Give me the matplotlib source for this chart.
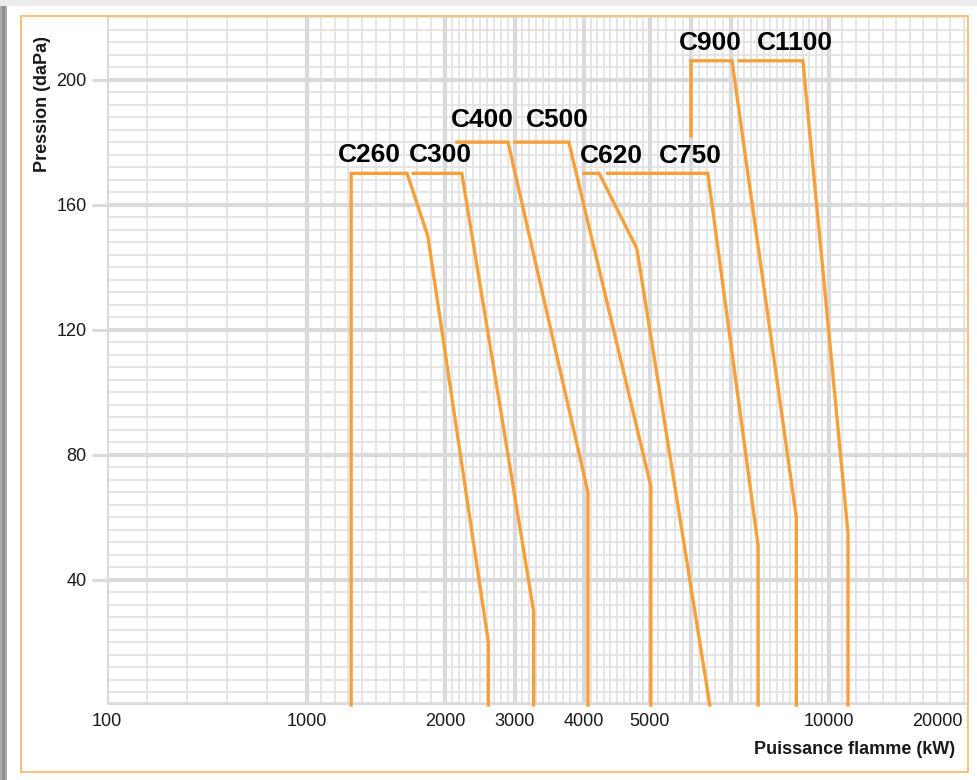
import numpy as np
import matplotlib
matplotlib.use("Agg")
import matplotlib.pyplot as plt
from matplotlib.patches import Rectangle

plt.rcParams['font.family'] = ['Liberation Sans', 'DejaVu Sans']

# ---------------- data (kW, daPa) ----------------
c260_kw = [1320, 1320, 1725, 1875, 2620, 2620]
c260_pa = [0, 170, 170, 150, 20, 0]
c300_kw = [1770, 2240, 3270, 3270]
c300_pa = [170, 170, 30, 0]
c400_kw = [2170, 2900, 4060, 4060]
c400_pa = [180, 180, 68, 0]
c500_kw = [3000, 3780, 5020, 5020]
c500_pa = [180, 180, 70, 0]
c620_kw = [4000, 4230, 4800, 6470]
c620_pa = [170, 170, 146, 0]
c750_kw = [4360, 6420, 7830, 7830]
c750_pa = [170, 170, 51, 0]
c900_kw = [6000, 6000, 7030, 9000, 9000]
c900_pa = [182, 206, 206, 60, 0]
c1100_kw = [7250, 9200, 11760, 11760]
c1100_pa = [206, 206, 55, 0]

names = ["C260", "C300", "C400", "C500", "C620", "C750", "C900", "C1100"]
series_kw = [c260_kw, c300_kw, c400_kw, c500_kw, c620_kw, c750_kw, c900_kw, c1100_kw]
series_pa = [c260_pa, c300_pa, c400_pa, c500_pa, c620_pa, c750_pa, c900_pa, c1100_pa]

# label anchor positions (kW, daPa)
label_kw = [1449, 1964, 2530, 3609, 4409, 5975, 6475, 8957]
label_pa = [176, 176, 187, 187, 175.4, 175.4, 211.8, 211.8]

x_ticks = [100, 1000, 2000, 3000, 4000, 5000, 10000, 20000]
x_ticklabels = ["100", "1000", "2000", "3000", "4000", "5000", "10000", "20000"]
y_ticks = [40, 80, 120, 160, 200]

# ---------------- irregular chart scale ----------------
bp_kw = np.array([0, 100, 1000, 2000, 3000, 4000, 5000, 6000, 7000, 10000, 20000, 40000], float)
bp_u = np.array([84.8, 107, 307, 445, 515, 584, 650, 691, 731, 829, 937, 1153], float)


def fwd(x):
    return np.interp(x, bp_kw, bp_u)


def inv(u):
    return np.interp(u, bp_u, bp_kw)


W, H = 978, 780
fig = plt.figure(figsize=(W / 100, H / 100), dpi=100)

# decorative background: shadow and orange frame
fig.patches.append(Rectangle((0, 0), 7 / W, 1, transform=fig.transFigure,
                             facecolor="#a8a8a8", edgecolor="none", zorder=0))
fig.patches.append(Rectangle((2 / W, 0), 3 / W, 1, transform=fig.transFigure,
                             facecolor="#8f8f8f", edgecolor="none", zorder=0))
fig.patches.append(Rectangle((0, 1 - 6 / H), 1, 6 / H, transform=fig.transFigure,
                             facecolor="#ececec", edgecolor="none", zorder=0))
fig.patches.append(Rectangle((21 / W, (H - 772) / H), (968 - 21) / W, (772 - 16) / H,
                             transform=fig.transFigure, facecolor="none",
                             edgecolor="#f8b466", linewidth=1.2, zorder=1))

ax = fig.add_axes([107 / W, (H - 705) / H, (967 - 107) / W, (705 - 17) / H])
ax.set_xscale('function', functions=(fwd, inv))
ax.set_xlim(100, inv(967))
ax.set_ylim(0, 220)

minor_col = "#e3e3e3"
major_col = "#dadada"

# vertical grid
vminor = np.concatenate([np.linspace(100, 1000, 6), np.arange(1000, 5000, 100),
                         np.arange(5000, 10000, 200), np.arange(10000, 23000, 1250)])
vmajor = [100, 1000, 2000, 3000, 4000, 5000, 6000, 7000, 10000]
for v in vminor:
    ax.axvline(v, color=minor_col, lw=1.3, zorder=1)
for v in vmajor:
    ax.axvline(v, color=major_col, lw=3.0, zorder=1.2)
# horizontal grid
for h in np.arange(0, 221, 4):
    ax.axhline(h, color=minor_col, lw=1.3, zorder=1)
for h in [0] + y_ticks:
    ax.axhline(h, color=major_col, lw=3.0 if h else 4.0, zorder=1.2)

for s in ax.spines.values():
    s.set_visible(False)

orange = "#f7a03a"
for kw, pa in zip(series_kw, series_pa):
    ax.plot(kw, pa, color=orange, lw=2.4, solid_joinstyle='miter', zorder=3, clip_on=False)

for n, lx, ly in zip(names, label_kw, label_pa):
    ax.text(lx, ly, n, fontsize=19, fontweight='bold', color='black',
            ha='center', va='center', zorder=4)

ax.set_xticks(x_ticks)
ax.set_xticklabels(x_ticklabels)
ax.xaxis.set_minor_locator(matplotlib.ticker.NullLocator())
ax.set_yticks(y_ticks)
ax.tick_params(axis='x', length=0, pad=6, labelsize=13, labelcolor='#1a1a1a')
ax.tick_params(axis='y', length=11, width=2.2, color=major_col, pad=3.5,
               labelsize=13, labelcolor='#1a1a1a', direction='out')

fig.text(43 / W, 1 - 104 / H, "Pression (daPa)", rotation=90, fontsize=13,
         fontweight='bold', ha='center', va='center', color='#1a1a1a')
fig.text(955 / W, 1 - 750 / H, "Puissance flamme (kW)", fontsize=13,
         fontweight='bold', ha='right', va='center', color='#1a1a1a')

fig.savefig("out.png", dpi=100)
